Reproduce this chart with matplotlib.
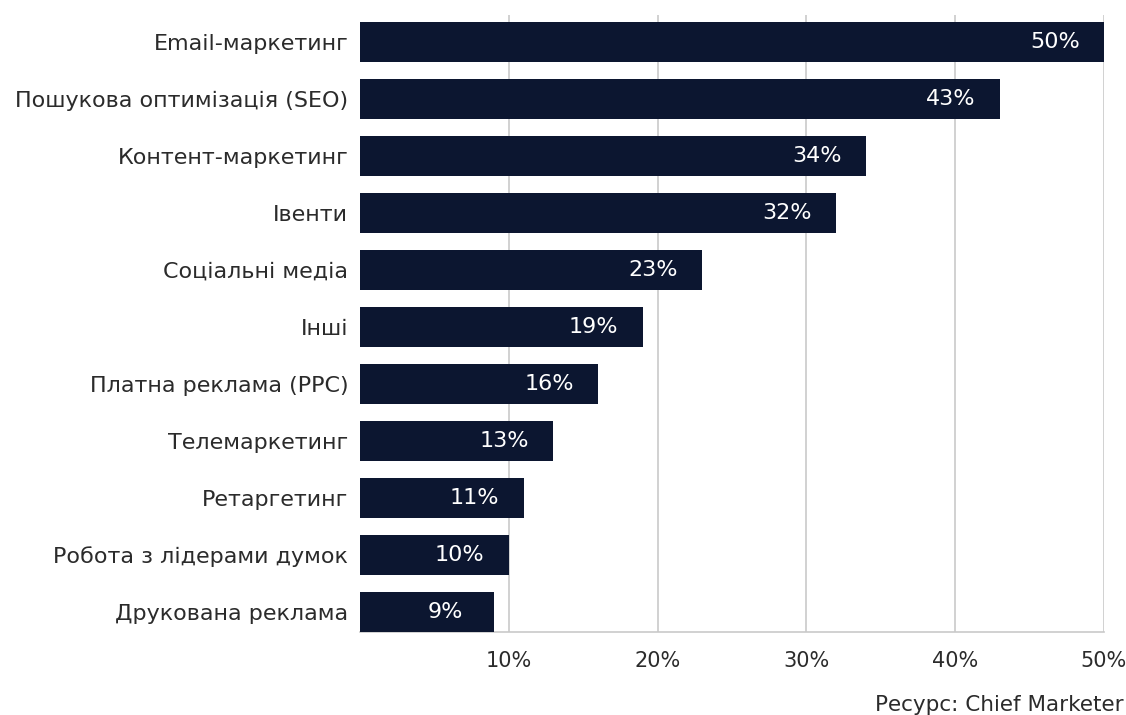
import matplotlib
matplotlib.use("Agg")
import matplotlib.pyplot as plt

plt.rcParams['font.family'] = ['DejaVu Sans']

categories = ["Email-маркетинг", "Пошукова оптимізація (SEO)", "Контент-маркетинг",
              "Івенти", "Соціальні медіа", "Інші", "Платна реклама (PPC)",
              "Телемаркетинг", "Ретаргетинг", "Робота з лідерами думок",
              "Друкована реклама"]
values = [50, 43, 34, 32, 23, 19, 16, 13, 11, 10, 9]
xticks = [10, 20, 30, 40, 50]

bar_color = "#0c1630"
text_color = "#2b2b2b"
grid_color = "#c9c9c9"

fig = plt.figure(figsize=(11.26, 7.15), dpi=100)
ax = fig.add_axes([360 / 1126, 1 - 632 / 715, (1104 - 360) / 1126, (632 - 15) / 715])

ypos = list(range(len(categories)))
ax.barh(ypos, values, height=0.7, color=bar_color, zorder=3)

for y, v in zip(ypos, values):
    ax.text(v - 3.3, y, f"{v}%", color="white", fontsize=16,
            ha="center", va="center", zorder=4)

ax.set_xlim(0, 50)
ax.set_ylim(10.35, -0.474)
ax.set_yticks(ypos)
ax.set_yticklabels(categories, fontsize=16, color=text_color)
ax.set_xticks(xticks)
ax.set_xticklabels([f"{t}%" for t in xticks], fontsize=15, color=text_color)
ax.tick_params(axis="y", length=0, pad=8.5)
ax.tick_params(axis="x", length=0, pad=14)

ax.grid(axis="x", color=grid_color, linewidth=1.2, zorder=0)
for s in ["top", "right", "left"]:
    ax.spines[s].set_visible(False)
ax.spines["bottom"].set_color(grid_color)
ax.spines["bottom"].set_linewidth(1.2)

fig.text(1124 / 1126, 1 - 705 / 715, "Ресурс: Chief Marketer", fontsize=15.5,
         color=text_color, ha="right", va="center")

fig.savefig("out.png", dpi=100, facecolor="white")
